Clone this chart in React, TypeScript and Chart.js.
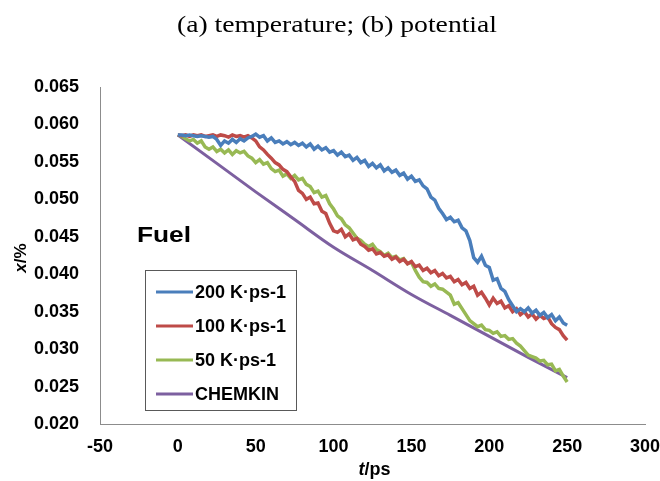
import React, { useEffect, useRef } from "react";
import { Chart, registerables } from "chart.js";

Chart.register(...registerables);

// time axis of the MD runs (ps)
const TIME_PS = [
  0, 2.5, 5, 7.5, 10, 12.5, 15, 17.5, 20, 22.5,
  25, 27.5, 30, 32.5, 35, 37.5, 40, 42.5, 45, 47.5,
  50, 52.5, 55, 57.5, 60, 62.5, 65, 67.5, 70, 72.5,
  75, 77.5, 80, 82.5, 85, 87.5, 90, 92.5, 95, 97.5,
  100, 102.5, 105, 107.5, 110, 112.5, 115, 117.5, 120, 122.5,
  125, 127.5, 130, 132.5, 135, 137.5, 140, 142.5, 145, 147.5,
  150, 152.5, 155, 157.5, 160, 162.5, 165, 167.5, 170, 172.5,
  175, 177.5, 180, 182.5, 185, 187.5, 190, 192.5, 195, 197.5,
  200, 202.5, 205, 207.5, 210, 212.5, 215, 217.5, 220, 222.5,
  225, 227.5, 230, 232.5, 235, 237.5, 240, 242.5, 245, 247.5,
  250,
];

const RATE_200 = [
  0.0586, 0.0586, 0.0585, 0.0586, 0.0585, 0.0584, 0.0585, 0.0584, 0.0583, 0.0584,
  0.0580, 0.0572, 0.0578, 0.0575, 0.0580, 0.0576, 0.0581, 0.0578, 0.0582, 0.0584,
  0.0587, 0.0583, 0.0585, 0.0578, 0.0582, 0.0576, 0.0578, 0.0574, 0.0577, 0.0573,
  0.0576, 0.0572, 0.0575, 0.0570, 0.0574, 0.0567, 0.0571, 0.0566, 0.0569, 0.0563,
  0.0565, 0.0559, 0.0563, 0.0557, 0.0559, 0.0552, 0.0556, 0.0549, 0.0552, 0.0544,
  0.0548, 0.0542, 0.0546, 0.0538, 0.0542, 0.0536, 0.0539, 0.0532, 0.0535, 0.0527,
  0.0531, 0.0524, 0.0526, 0.0518, 0.0514, 0.0503, 0.0499, 0.0488, 0.0481, 0.0473,
  0.0476, 0.0470, 0.0472, 0.0462, 0.0458, 0.0445, 0.0422, 0.0416, 0.0424, 0.0412,
  0.0409, 0.0392, 0.0394, 0.0381, 0.0377, 0.0366, 0.0358, 0.0350, 0.0354, 0.0350,
  0.0355, 0.0348, 0.0352, 0.0345, 0.0349, 0.0342, 0.0346, 0.0338, 0.0343, 0.0335,
  0.0332,
];

const RATE_100 = [
  0.0586, 0.0585, 0.0586, 0.0584, 0.0586, 0.0585, 0.0586, 0.0584, 0.0585, 0.0586,
  0.0584, 0.0586, 0.0585, 0.0583, 0.0586, 0.0584, 0.0585, 0.0583, 0.0585, 0.0582,
  0.0578, 0.0570, 0.0566, 0.0560, 0.0555, 0.0549, 0.0546, 0.0540, 0.0537, 0.0530,
  0.0524, 0.0512, 0.0508, 0.0500, 0.0503, 0.0494, 0.0495, 0.0484, 0.0481, 0.0468,
  0.0458, 0.0456, 0.0460, 0.0450, 0.0454, 0.0446, 0.0448, 0.0440, 0.0437, 0.0432,
  0.0434, 0.0427, 0.0429, 0.0424, 0.0426, 0.0420, 0.0423, 0.0417, 0.0420, 0.0414,
  0.0417, 0.0410, 0.0412, 0.0405, 0.0408, 0.0402, 0.0405, 0.0398, 0.0401, 0.0395,
  0.0397, 0.0390, 0.0393, 0.0386, 0.0389, 0.0381, 0.0384, 0.0372, 0.0376, 0.0368,
  0.0359, 0.0368, 0.0361, 0.0364, 0.0355, 0.0358, 0.0350, 0.0354, 0.0346, 0.0350,
  0.0343, 0.0347, 0.0340, 0.0345, 0.0341, 0.0343, 0.0334, 0.0329, 0.0326, 0.0318,
  0.0312,
];

const RATE_50 = [
  0.0586, 0.0584, 0.0581, 0.0578, 0.0580, 0.0575, 0.0578, 0.0570, 0.0567, 0.0570,
  0.0564, 0.0567, 0.0562, 0.0566, 0.0560, 0.0565, 0.0562, 0.0564, 0.0558, 0.0555,
  0.0549, 0.0553, 0.0547, 0.0549, 0.0541, 0.0537, 0.0539, 0.0531, 0.0534, 0.0528,
  0.0532, 0.0526, 0.0528, 0.0520, 0.0517, 0.0509, 0.0511, 0.0503, 0.0505, 0.0494,
  0.0487, 0.0478, 0.0474, 0.0466, 0.0462, 0.0455, 0.0448, 0.0445, 0.0440, 0.0437,
  0.0440, 0.0433, 0.0430, 0.0425, 0.0428, 0.0422, 0.0424, 0.0419, 0.0421, 0.0414,
  0.0416, 0.0405, 0.0396, 0.0390, 0.0389, 0.0384, 0.0387, 0.0381, 0.0380, 0.0376,
  0.0372, 0.0360, 0.0362, 0.0354, 0.0346, 0.0338, 0.0334, 0.0330, 0.0332, 0.0326,
  0.0325, 0.0321, 0.0323, 0.0317, 0.0318, 0.0313, 0.0314, 0.0308, 0.0304, 0.0298,
  0.0292, 0.0290, 0.0288, 0.0284, 0.0285, 0.0279, 0.0280, 0.0271, 0.0273, 0.0264,
  0.0256,
];

const CHEMKIN_T = [0, 25, 50, 75, 100, 125, 150, 175, 200, 225, 250];
const CHEMKIN = [0.0586, 0.0548, 0.0510, 0.0473, 0.0436, 0.0405, 0.0373, 0.0345, 0.0317, 0.0289, 0.0262];

const SERIES_LABELS = ["200 K·ps-1", "100 K·ps-1", "50 K·ps-1", "CHEMKIN"];
const SERIES_COLORS = ["#4A7EBB", "#BE4B48", "#98B954", "#7D60A0"];

const X_MIN = -50;
const X_MAX = 300;
const X_STEP = 50;
const Y_MIN = 0.02;
const Y_MAX = 0.065;
const Y_STEP = 0.005;

const TITLE = "(a) temperature; (b) potential";
const ANNOTATION = "Fuel";

const SANS = '"Liberation Sans", Arial, sans-serif';
const SERIF = '"Liberation Serif", "Times New Roman", serif';

function pairs(xs: number[], ys: number[]) {
  return ys.map((y, i) => ({ x: xs[i], y }));
}

function stretchedText(
  ctx: CanvasRenderingContext2D,
  text: string,
  font: string,
  left: number,
  baseline: number,
  targetWidth: number
) {
  ctx.save();
  ctx.font = font;
  const w = ctx.measureText(text).width;
  const k = targetWidth / w;
  ctx.translate(left, baseline);
  ctx.scale(k, 1);
  ctx.textAlign = "left";
  ctx.textBaseline = "alphabetic";
  ctx.fillText(text, 0, 0);
  ctx.restore();
}

export default function App() {
  const ref = useRef<HTMLCanvasElement>(null);

  useEffect(() => {
    document.body.style.margin = "0";
    const canvas = ref.current!;

    const overlay = {
      id: "overlay",
      afterDraw(chart: any) {
        const ctx: CanvasRenderingContext2D = chart.ctx;
        ctx.save();
        ctx.fillStyle = "#000";

        // title
        stretchedText(ctx, TITLE, `24px ${SERIF}`, 177, 32, 320);

        // Fuel annotation
        stretchedText(ctx, ANNOTATION, `bold 22px ${SANS}`, 137, 242, 54);

        // legend box
        ctx.strokeStyle = "#595959";
        ctx.lineWidth = 1;
        ctx.strokeRect(145.5, 270.5, 151, 140);
        const ds = chart.data.datasets;
        ctx.font = `bold 18px ${SANS}`;
        ctx.textBaseline = "middle";
        ctx.textAlign = "left";
        ds.forEach((d: any, i: number) => {
          const y = 292 + i * 34;
          ctx.strokeStyle = d.borderColor;
          ctx.lineWidth = 3;
          ctx.beginPath();
          ctx.moveTo(156, y);
          ctx.lineTo(193, y);
          ctx.stroke();
          ctx.fillStyle = "#000";
          ctx.fillText(d.label, 195, y + 1);
        });

        // y axis title: x/%
        ctx.save();
        ctx.translate(26, 258);
        ctx.rotate(-Math.PI / 2);
        ctx.textBaseline = "alphabetic";
        ctx.font = `italic bold 17px ${SANS}`;
        const wx = ctx.measureText("x").width;
        ctx.font = `bold 17px ${SANS}`;
        const wr = ctx.measureText("/%").width;
        const sx = -(wx + wr) / 2;
        ctx.textAlign = "left";
        ctx.font = `italic bold 17px ${SANS}`;
        ctx.fillText("x", sx, 0);
        ctx.font = `bold 17px ${SANS}`;
        ctx.fillText("/%", sx + wx, 0);
        ctx.restore();

        // x axis title: t/ps
        ctx.textBaseline = "alphabetic";
        ctx.font = `italic bold 18px ${SANS}`;
        const wt = ctx.measureText("t").width;
        ctx.font = `bold 18px ${SANS}`;
        const wp = ctx.measureText("/ps").width;
        const cx = (chart.chartArea.left + chart.chartArea.right) / 2 + 2;
        const bx = cx - (wt + wp) / 2;
        ctx.textAlign = "left";
        ctx.font = `italic bold 18px ${SANS}`;
        ctx.fillText("t", bx, 475);
        ctx.font = `bold 18px ${SANS}`;
        ctx.fillText("/ps", bx + wt, 475);

        ctx.restore();
      },
    };

    const series = [RATE_200, RATE_100, RATE_50];
    const datasets: any[] = series.map((vals, i) => ({
      label: SERIES_LABELS[i],
      data: pairs(TIME_PS, vals),
      borderColor: SERIES_COLORS[i],
      backgroundColor: SERIES_COLORS[i],
      borderWidth: 3.5,
      pointRadius: 0,
      tension: 0,
      fill: false,
    }));
    datasets.push({
      label: SERIES_LABELS[3],
      data: pairs(CHEMKIN_T, CHEMKIN),
      borderColor: SERIES_COLORS[3],
      backgroundColor: SERIES_COLORS[3],
      borderWidth: 3,
      pointRadius: 0,
      cubicInterpolationMode: "monotone",
      fill: false,
    });

    const chart = new Chart(canvas, {
      type: "line",
      data: { datasets },
      options: {
        animation: false,
        responsive: true,
        maintainAspectRatio: false,
        devicePixelRatio: 1,
        layout: { padding: { top: 87, right: 15, bottom: 0, left: 0 } },
        plugins: {
          legend: { display: false },
          tooltip: { enabled: false },
          title: { display: false },
        },
        scales: {
          x: {
            type: "linear",
            min: X_MIN,
            max: X_MAX,
            afterFit: (s: any) => {
              s.height = 57;
              s.paddingLeft = 0;
              s.paddingRight = 0;
            },
            ticks: {
              stepSize: X_STEP,
              padding: 12,
              color: "#000",
              font: { family: SANS, size: 18, weight: "bold" },
              maxRotation: 0,
            },
            grid: { display: false, drawTicks: false },
            border: { display: true, color: "#8c8c8c", width: 1 },
          },
          y: {
            type: "linear",
            min: Y_MIN,
            max: Y_MAX,
            afterFit: (s: any) => {
              s.width = 100;
            },
            ticks: {
              stepSize: Y_STEP,
              padding: 21,
              color: "#000",
              font: { family: SANS, size: 18, weight: "bold" },
              callback: (v: any) => Number(v).toFixed(3),
            },
            grid: { display: false, drawTicks: false },
            border: { display: true, color: "#8c8c8c", width: 1 },
          },
        },
      },
      plugins: [overlay],
    });

    return () => chart.destroy();
  }, []);

  return (
    <div style={{ width: 660, height: 481, position: "relative" }}>
      <canvas ref={ref} />
    </div>
  );
}
